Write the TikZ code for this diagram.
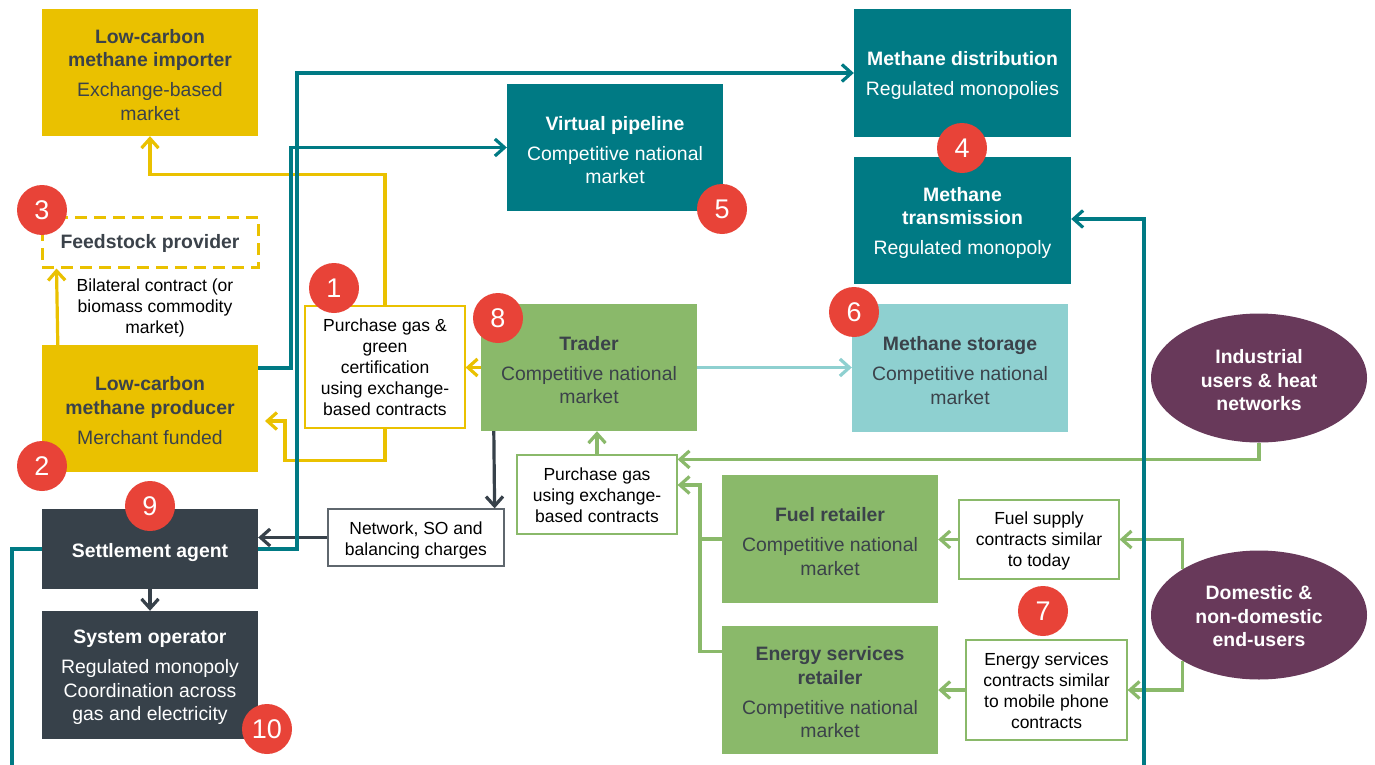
\documentclass[tikz,border=0pt]{standalone}
\usepackage{fontspec}
\setmainfont{Liberation Sans}
\usetikzlibrary{arrows.meta,shapes.geometric,calc}

\definecolor{cYellow}{RGB}{234,193,0}
\definecolor{cTeal}{RGB}{0,122,132}
\definecolor{cGreen}{RGB}{138,185,106}
\definecolor{cLight}{RGB}{142,208,208}
\definecolor{cDark}{RGB}{55,65,74}
\definecolor{cPurple}{RGB}{104,57,90}
\definecolor{cRed}{RGB}{232,67,56}
\definecolor{cInk}{RGB}{59,66,74}

% headings; the first one carries a strut that sets the text block a little lower
\newcommand\hd[1]{\textbf{#1}}
\newcommand\hdf[2][19pt]{\rule{0pt}{#1}\textbf{#2}}
\newcommand\lowstrut[1]{\rule{0pt}{#1}}

\tikzset{
  bigfont/.style={font=\fontsize{19.4}{23.5}\selectfont},
  smallfont/.style={font=\fontsize{17.5}{21}\selectfont},
  actor/.style={rectangle, inner sep=0pt, align=center, bigfont,
    minimum width=216pt, minimum height=127pt},
  yellowbox/.style={actor, fill=cYellow, text=cInk},
  tealbox/.style={actor, fill=cTeal, text=white},
  darkbox/.style={actor, fill=cDark, text=white},
  greenbox/.style={actor, fill=cGreen, text=cInk},
  lightbox/.style={actor, fill=cLight, text=cInk},
  userblob/.style={ellipse, inner sep=0pt, align=center, bigfont,
    minimum width=216pt, minimum height=129pt, fill=cPurple, text=white},
  contract/.style={rectangle, inner sep=0pt, align=center, smallfont,
    fill=white, text=black, line width=1.2pt},
  badge/.style={circle, fill=cRed, text=white, inner sep=0pt,
    minimum size=50pt, font=\fontsize{27}{27}\selectfont},
  conn/.style={line width=3.2pt, -{Straight Barb[length=9.5pt,width=17pt]}},
  plain/.style={line width=3.2pt},
}

\begin{document}
\begin{tikzpicture}[x=1pt, y=-1pt]
\clip (0,0) rectangle (1375,765);
\fill[white] (0,0) rectangle (1375,765);

% ---- market actors ----
\node[yellowbox] (imp) at (150,72.5)
  {\hdf{Low-carbon}\\\hd{methane importer}\\[6.5pt]Exchange-based\\market};
\node[rectangle, inner sep=0pt, draw=cYellow, line width=3pt,
      dash pattern=on 12pt off 7pt, minimum width=216pt, minimum height=50pt,
      bigfont, text=cInk] (feed) at (150,242) {\hdf[18pt]{Feedstock provider}};
\node[smallfont, align=center, text=black] (bil) at (155,308)
  {Bilateral contract (or\\biomass commodity\\market)};
\node[yellowbox] (prod) at (150,408.5)
  {\hdf{Low-carbon}\\\hd{methane producer}\\[7pt]Merchant funded};
\node[darkbox, minimum height=80pt] (settle) at (150,549) {\hdf[22pt]{Settlement agent}};
\node[darkbox, minimum height=128pt] (sysop) at (150,675)
  {\hdf{System operator}\\[6.5pt]Regulated monopoly\\Coordination across\\gas and electricity};

\node[tealbox] (vp) at (615,147.5)
  {\hdf{Virtual pipeline}\\[6.5pt]Competitive national\\market};
\node[tealbox, minimum width=217pt, minimum height=128pt] (dist) at (962.5,73)
  {\hdf{Methane distribution}\\[6.5pt]Regulated monopolies};
\node[tealbox, minimum width=217pt] (trans) at (962.5,220.5)
  {\hdf{Methane}\\\hd{transmission}\\[6.5pt]Regulated monopoly};
\node[lightbox, minimum height=128pt] (stor) at (960,368)
  {\hdf{Methane storage}\\[6.5pt]Competitive national\\market};

\node[greenbox] (trader) at (589,367.5)
  {\hdf{Trader}\\[6.5pt]Competitive national\\market};
\node[greenbox, minimum height=128pt] (fuel) at (830,539)
  {\hdf{Fuel retailer}\\[6.5pt]Competitive national\\market};
\node[greenbox, minimum height=128pt] (esr) at (830,690)
  {\hdf{Energy services}\\\hd{retailer}\\[6.5pt]Competitive national\\market};

\node[userblob] (ind) at (1259,378) {\hdf{Industrial}\\\hd{users \& heat}\\\hd{networks}};
\node[userblob] (dom) at (1259,615) {\hdf[16.5pt]{Domestic \&}\\\hd{non-domestic}\\\hd{end-users}};

% ---- contract boxes ----
\node[contract, draw=cYellow, minimum width=160pt, minimum height=122pt] (gc) at (385,367)
  {Purchase gas \&\\green\\certification\\using exchange-\\based contracts};
\node[contract, draw=cDark!80, minimum width=176pt, minimum height=57pt] (net) at (416,537.5)
  {\lowstrut{18.5pt}Network, SO and\\balancing charges};
\node[contract, draw=cGreen, minimum width=160pt, minimum height=79pt] (pg) at (597,494.5)
  {\lowstrut{14.5pt}Purchase gas\\using exchange-\\based contracts};
\node[contract, draw=cGreen, minimum width=160pt, minimum height=79pt] (fs) at (1039,539.5)
  {\lowstrut{16.5pt}Fuel supply\\contracts similar\\to today};
\node[contract, draw=cGreen, minimum width=161pt, minimum height=100pt] (es) at (1046.5,690)
  {\lowstrut{14.5pt}Energy services\\contracts similar\\to mobile phone\\contracts};

\coordinate (pin) at (265,421);
\coordinate (gj) at (700,485);

% ---- green flows (retail) ----
\draw[conn, cGreen] (ind.south) |- ([yshift=-5pt]pg.north east);
\draw[conn, cGreen] (pg.north) -- (pg.north |- trader.south);
\draw[conn, cGreen] ([yshift=-26pt]esr.north west) -| (gj) -- (gj -| pg.east);
\draw[plain, cGreen] (fuel.west) -- (fuel.west -| gj);
\draw[conn, cGreen] (dom.north west) |- (fs.east);
\draw[conn, cGreen] (dom.south west) |- (es.east);
\draw[conn, cGreen] (fs.west) -- (fs.west -| fuel.east);
\draw[conn, cGreen] (es.west) -- (es.west -| esr.east);

% ---- yellow flows (low-carbon supply) ----
\draw[conn, cYellow] (gc.north) -- ++(0,-131) -| (imp.south);
\draw[conn, cYellow] (gc.south) -- ++(0,32) -| (285,421) -- (pin);
\draw[conn, cYellow] (trader.west) -- (trader.west -| gc.east);
\draw[conn, cYellow] ([xshift=16pt]prod.north west) -- ([xshift=16pt]feed.south west);

% ---- charges ----
\draw[conn, cDark] ([xshift=13pt]trader.south west) -- ([xshift=-10pt]net.north east);
\draw[conn, cDark] (net.west) -- (net.west -| settle.east);
\draw[conn, cDark] (settle.south) -- (sysop.north);

% ---- storage ----
\draw[conn, cLight] (trader.east) -- (trader.east -| stor.west);

% ---- teal flows (networks) ----
\draw[conn, cTeal] ([yshift=40.5pt]prod.east) -| (291,147.5) -- (vp.west);
\draw[conn, cTeal] (settle.east) -| (297,73) -- (dist.west);
\draw[conn, cTeal] (settle.west) -| (12,800) -| (1144,219) -- (1144,219 -| trans.east);

% ---- numbered markers ----
\node[badge] (b1) at (334,288) {1};
\node[badge] (b2) at (42,466) {2};
\node[badge] (b3) at (42,210) {3};
\node[badge] (b4) at (962,148) {4};
\node[badge] (b5) at (722,209) {5};
\node[badge] (b6) at (854,312) {6};
\node[badge] (b7) at (1043,611) {7};
\node[badge] (b8) at (498,318) {8};
\node[badge] (b9) at (150,506) {9};
\node[badge] (b10) at (267,729) {10};
\end{tikzpicture}
\end{document}
